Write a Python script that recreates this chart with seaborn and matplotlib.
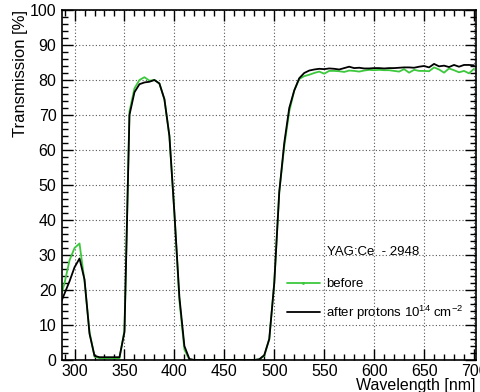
import numpy as np
import pandas as pd
import matplotlib.pyplot as plt
from matplotlib.ticker import MultipleLocator
from matplotlib.lines import Line2D
import seaborn as sns

wavelength = list(range(285, 705, 5))

before = [17.0, 22.0, 28.5, 32.0, 33.3, 22.5, 8.0, 1.0, 0.5, 0.5, 0.5, 0.5, 0.5,
          8.5, 71.0, 77.6, 80.0, 80.8, 79.8, 80.0, 79.0, 74.5, 64.0, 42.0, 17.0, 3.0,
          0.1, 0.0, 0.0, 0.0, 0.0, 0.0, 0.0, 0.0, 0.0, 0.0, 0.0, 0.0, 0.0, 0.0, 0.2,
          1.2, 6.0, 22.0, 48.0, 61.0, 71.0, 77.0, 80.3, 81.1, 81.5,
          82.0, 82.4, 81.8, 82.6, 82.6, 82.5, 82.3, 82.7, 82.6, 82.4, 82.7, 82.9, 82.8,
          82.9, 82.8, 82.8, 82.6, 82.4, 83.1, 82.1, 82.9, 82.6, 82.6, 82.5, 83.6, 83.0,
          82.1, 83.3, 82.8, 82.2, 82.6, 81.9, 83.2]

after = [15.5, 19.0, 22.5, 26.5, 29.0, 23.0, 7.5, 1.2, 0.8, 0.8, 0.8, 0.8, 0.8,
         8.0, 70.0, 76.5, 78.8, 79.3, 79.5, 80.0, 79.0, 74.5, 64.0, 42.0, 18.0, 4.0,
         0.3, 0.0, 0.0, 0.0, 0.0, 0.0, 0.0, 0.0, 0.0, 0.0, 0.0, 0.0, 0.0, 0.0, 0.2,
         1.4, 6.0, 22.0, 48.0, 62.0, 72.0, 77.0, 80.5, 82.0, 82.7,
         83.0, 83.2, 83.1, 83.3, 83.2, 83.0, 83.4, 83.8, 83.4, 83.5, 83.3, 83.3, 83.4,
         83.4, 83.3, 83.4, 83.4, 83.5, 83.6, 83.6, 83.5, 83.8, 84.0, 83.6, 84.6, 83.9,
         84.1, 83.7, 84.3, 83.8, 84.3, 84.3, 84.2]

labels = ["before", "after protons 10$^{14}$ cm$^{-2}$"]
colors = ["#3cc83c", "black"]
header = "YAG:Ce  - 2948"

df = pd.concat([
    pd.DataFrame({"wl": wavelength, "T": before, "sample": labels[0]}),
    pd.DataFrame({"wl": wavelength, "T": after, "sample": labels[1]}),
])

sns.set_style("ticks")
plt.rcParams['font.family'] = ['Liberation Sans', 'DejaVu Sans']
plt.rcParams['mathtext.fontset'] = 'custom'
plt.rcParams['mathtext.rm'] = 'Liberation Sans'
for k in ['text.color', 'axes.labelcolor', 'xtick.color', 'ytick.color', 'axes.edgecolor']:
    plt.rcParams[k] = 'black'

fig = plt.figure(figsize=(4.81, 3.92), dpi=100)
ax = fig.add_axes([0.129, 0.0816, 0.8606, 0.8929])

sns.lineplot(data=df, x="wl", y="T", hue="sample", palette=colors, ax=ax,
             linewidth=1.3, legend=False)

ax.set_xlim(287.5, 702)
ax.set_ylim(0, 100)
ax.xaxis.set_major_locator(MultipleLocator(50))
ax.xaxis.set_minor_locator(MultipleLocator(10))
ax.yaxis.set_major_locator(MultipleLocator(10))
ax.yaxis.set_minor_locator(MultipleLocator(2))
ax.tick_params(which='both', direction='in', top=True, right=True, labelsize=11.5)
ax.tick_params(which='major', length=8, width=1)
ax.tick_params(which='minor', length=4.5, width=1)
ax.tick_params(axis='y', pad=4)
ax.tick_params(axis='x', pad=3)
ax.grid(True, which='major', linestyle=(0, (1, 2)), color='#555555', linewidth=0.8)
for s in ax.spines.values():
    s.set_linewidth(1.2)

ax.set_xlabel("Wavelength [nm]", loc='right', fontsize=11.5, labelpad=-1)
ax.set_ylabel("Transmission [%]", loc='top', fontsize=12, labelpad=1)

handles = [Line2D([], [], color=colors[0], lw=1.3, marker='.', markersize=2),
           Line2D([], [], color=colors[1], lw=1.3)]
ax.legend(handles, labels, loc='upper left', bbox_to_anchor=(0.543, 0.234),
          frameon=False, fontsize=9.5, borderpad=0, borderaxespad=0,
          handlelength=2.5, handletextpad=0.5, labelspacing=1.0)
ax.text(0.640, 0.309, header, transform=ax.transAxes, fontsize=9.5,
        va='center', ha='left')

fig.savefig("out.png", dpi=100)
